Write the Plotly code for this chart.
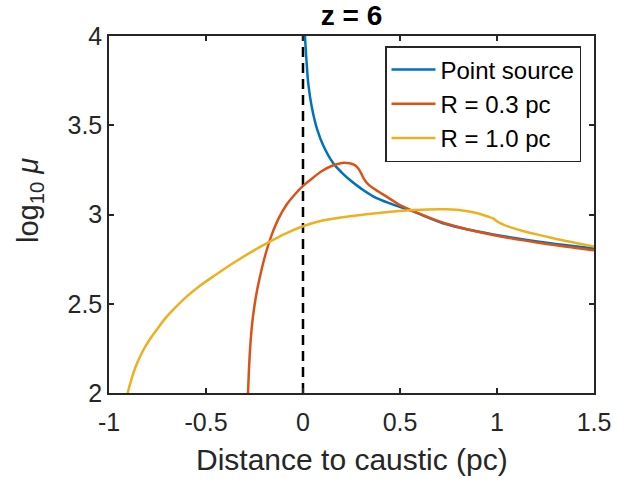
import plotly.graph_objects as go

# ---- data ----
point_x = [0.010, 0.019, 0.027, 0.045, 0.073, 0.105, 0.156, 0.20, 0.242, 0.30, 0.362, 0.448, 0.56, 0.74, 0.98, 1.256, 1.5]
point_y = [4.00, 3.846, 3.735, 3.604, 3.477, 3.385, 3.287, 3.235, 3.193, 3.145, 3.102, 3.062, 3.02, 2.945, 2.888, 2.842, 2.81]

r03_x = [-0.2835, -0.279, -0.272, -0.262, -0.250, -0.235, -0.215, -0.19, -0.16, -0.125, -0.085, -0.04, 0.0,
         0.05, 0.10, 0.15, 0.20, 0.24, 0.265, 0.285, 0.30, 0.315, 0.335, 0.362, 0.431, 0.5, 0.6, 0.74,
         0.98, 1.256, 1.5]
r03_y = [2.0, 2.12, 2.26, 2.39, 2.49, 2.585, 2.685, 2.79, 2.89, 2.98, 3.055, 3.115, 3.16,
         3.205, 3.245, 3.273, 3.289, 3.287, 3.278, 3.258, 3.23, 3.198, 3.17, 3.147, 3.100, 3.053, 3.005, 2.948,
         2.885, 2.835, 2.80]

r10_x = [-0.904, -0.89, -0.875, -0.85, -0.823, -0.79, -0.755, -0.71, -0.669, -0.60, -0.531, -0.45, -0.359,
         -0.27, -0.188, -0.09, 0.0, 0.1, 0.17, 0.242, 0.4, 0.57, 0.74, 0.84, 0.90, 0.95, 0.98, 1.01,
         1.06, 1.12, 1.20, 1.29, 1.40, 1.5]
r10_y = [2.0, 2.055, 2.11, 2.18, 2.241, 2.30, 2.353, 2.418, 2.467, 2.540, 2.601, 2.662, 2.728,
         2.788, 2.838, 2.893, 2.934, 2.966, 2.979, 2.99, 3.01, 3.025, 3.029, 3.02, 3.007, 2.99, 2.978, 2.955,
         2.932, 2.912, 2.89, 2.867, 2.842, 2.82]

caustic_x = [0, 0]
caustic_y = [2, 4]

x_ticks = [-1, -0.5, 0, 0.5, 1, 1.5]
x_ticklabels = ["-1", "-0.5", "0", "0.5", "1", "1.5"]
y_ticks = [2, 2.5, 3, 3.5, 4]
y_ticklabels = ["2", "2.5", "3", "3.5", "4"]

FONT = "Liberation Sans, Arial, Helvetica, sans-serif"
AX = "#262626"
L, R, T, B = 109, 594, 36, 393  # plot area in px
W, H = 633, 479

fig = go.Figure()
fig.add_trace(go.Scatter(x=caustic_x, y=caustic_y, mode="lines", showlegend=False,
                         line=dict(color="black", width=2.5, dash="10px,6px")))
fig.add_trace(go.Scatter(x=point_x, y=point_y, mode="lines", name="Point source",
                         line=dict(color="#0072BD", width=2.5, shape="spline", smoothing=1.0)))
fig.add_trace(go.Scatter(x=r03_x, y=r03_y, mode="lines", name="R = 0.3 pc",
                         line=dict(color="#D95319", width=2.5, shape="spline", smoothing=0.8)))
fig.add_trace(go.Scatter(x=r10_x, y=r10_y, mode="lines", name="R = 1.0 pc",
                         line=dict(color="#EDB120", width=2.5, shape="spline", smoothing=1.0)))

axis_common = dict(showline=True, linecolor=AX, linewidth=1.5, mirror="ticks",
                   ticks="inside", ticklen=5, tickwidth=1.5, tickcolor=AX,
                   showgrid=False, zeroline=False, automargin=False,
                   tickfont=dict(family=FONT, size=25, color=AX))

fig.update_layout(
    width=W, height=H,
    margin=dict(l=L, r=W - R, t=T, b=H - B, autoexpand=False),
    paper_bgcolor="white", plot_bgcolor="white",
    font=dict(family=FONT, color=AX),
    title=dict(text="<b>z = 6</b>", x=(L + R) / 2 / W, xanchor="center",
               y=1 - 15 / H, yanchor="middle", yref="container",
               font=dict(family=FONT, size=28, color="black")),
    xaxis=dict(range=[-1, 1.5], tickvals=x_ticks, ticktext=x_ticklabels,
               ticklabelstandoff=6, **axis_common),
    yaxis=dict(range=[2, 4], tickvals=y_ticks, ticktext=y_ticklabels, **axis_common),
    legend=dict(x=(581 - L) / (R - L), xanchor="right", y=(B - 46) / (B - T), yanchor="top",
                bgcolor="white", bordercolor=AX, borderwidth=1.5,
                font=dict(family=FONT, size=24, color="black"),
                tracegroupgap=0, itemwidth=44),
    annotations=[
        dict(text="log<sub>10</sub> <i>μ</i>", textangle=-90,
             xref="paper", yref="paper", x=(30 - L) / (R - L), y=(B - 201) / (B - T),
             xanchor="center", yanchor="middle", showarrow=False,
             font=dict(family=FONT, size=29, color=AX)),
        dict(text="Distance to caustic (pc)",
             xref="paper", yref="paper", x=0.5, y=(B - 459) / (B - T),
             xanchor="center", yanchor="middle", showarrow=False,
             font=dict(family=FONT, size=30, color=AX)),
    ],
)

fig.write_html("out.html", config={"displayModeBar": False},
               post_script="document.body.style.margin='0';document.body.style.padding='0';")
